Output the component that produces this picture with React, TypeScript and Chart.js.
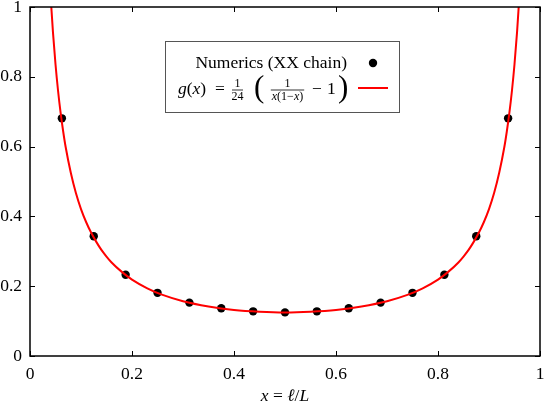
import React, { useEffect, useRef } from "react";
import { Chart, registerables } from "chart.js";

Chart.register(...registerables);

const numX = [0.0625, 0.125, 0.1875, 0.25, 0.3125, 0.375, 0.4375, 0.5, 0.5625, 0.625, 0.6875, 0.75, 0.8125, 0.875, 0.9375];
const numY = [0.681, 0.343, 0.233, 0.181, 0.153, 0.137, 0.128, 0.125, 0.128, 0.137, 0.153, 0.181, 0.233, 0.343, 0.681];

const curveX = [0.041, 0.045, 0.05, 0.055, 0.06, 0.065, 0.07, 0.08, 0.09, 0.10, 0.11, 0.12, 0.13, 0.14, 0.15, 0.16, 0.18, 0.20, 0.23, 0.26, 0.30, 0.35, 0.40, 0.45, 0.50,
  0.55, 0.60, 0.65, 0.70, 0.74, 0.77, 0.80, 0.82, 0.84, 0.85, 0.86, 0.87, 0.88, 0.89, 0.90, 0.91, 0.92, 0.93, 0.935, 0.94, 0.945, 0.95, 0.955, 0.959];
const curveY = [1.018, 0.928, 0.836, 0.760, 0.697, 0.644, 0.598, 0.525, 0.467, 0.421, 0.384, 0.353, 0.327, 0.304, 0.285, 0.268, 0.241, 0.219, 0.194, 0.175, 0.157, 0.142, 0.132, 0.127, 0.125,
  0.127, 0.132, 0.142, 0.157, 0.175, 0.194, 0.219, 0.241, 0.268, 0.285, 0.304, 0.327, 0.353, 0.384, 0.421, 0.467, 0.525, 0.598, 0.644, 0.697, 0.760, 0.836, 0.928, 1.018];

const xTicks = [0, 0.2, 0.4, 0.6, 0.8, 1];
const yTicks = [0, 0.2, 0.4, 0.6, 0.8, 1];

const SERIF = "'Liberation Serif', 'DejaVu Serif', serif";
const FS = 17.5;

const framePlugin = {
  id: "frame",
  afterDraw(chart: any) {
    const { ctx, chartArea: a, scales } = chart;
    ctx.save();
    ctx.strokeStyle = "#000";
    ctx.lineWidth = 1;
    const tl = 5;
    ctx.beginPath();
    for (const t of xTicks) {
      const px = Math.round(scales.x.getPixelForValue(t)) + 0.5;
      ctx.moveTo(px, a.bottom);
      ctx.lineTo(px, a.bottom - tl);
      ctx.moveTo(px, a.top);
      ctx.lineTo(px, a.top + tl);
    }
    for (const t of yTicks) {
      const py = Math.round(scales.y.getPixelForValue(t)) + 0.5;
      ctx.moveTo(a.left, py);
      ctx.lineTo(a.left + tl, py);
      ctx.moveTo(a.right, py);
      ctx.lineTo(a.right - tl, py);
    }
    ctx.stroke();
    ctx.lineWidth = 1.5;
    ctx.strokeRect(a.left, a.top, a.right - a.left, a.bottom - a.top);

    const put = (s: string, px: number, py: number, size: number, it: boolean, align: CanvasTextAlign = "left") => {
      ctx.font = `${it ? "italic " : ""}${size}px ${SERIF}`;
      ctx.textAlign = align;
      ctx.fillText(s, px, py);
      return ctx.measureText(s).width;
    };
    const widthOf = (parts: [string, boolean][], size: number) => {
      let w = 0;
      for (const [s, it] of parts) {
        ctx.font = `${it ? "italic " : ""}${size}px ${SERIF}`;
        w += ctx.measureText(s).width;
      }
      return w;
    };

    // axis title
    ctx.fillStyle = "#000";
    ctx.textBaseline = "middle";
    const tparts: [string, boolean][] = [["x", true], [" = ", false], ["ℓ", true], ["/", false], ["L", true]];
    let x = (a.left + a.right) / 2 - widthOf(tparts, FS) / 2;
    for (const [s, it] of tparts) x += put(s, x, 396, FS, it);

    // legend
    const L = 165, T = 41, R = 399, B = 112;
    ctx.fillStyle = "#fff";
    ctx.fillRect(L, T, R - L, B - T);
    ctx.strokeStyle = "#555";
    ctx.lineWidth = 1;
    ctx.strokeRect(L + 0.5, T + 0.5, R - L, B - T);
    ctx.fillStyle = "#000";
    put("Numerics (XX chain)", 347, 63, FS, false, "right");
    ctx.beginPath();
    ctx.arc(373, 63, 4.2, 0, Math.PI * 2);
    ctx.fill();

    const fy = 89;
    let fx = 178;
    fx += put("g", fx, fy, FS, true);
    fx += put("(", fx, fy, FS, false);
    fx += put("x", fx, fy, FS, true);
    fx += put(")", fx, fy, FS, false);
    put("=", 215, fy, FS, false);
    // 1/24
    put("1", 237.5, 84, 12, false, "center");
    put("24", 237.5, 96.5, 12, false, "center");
    ctx.fillRect(232, 89.6, 11, 0.8);
    // big paren
    put("(", 254, 88.5, 31, false);
    // 1/(x(1-x))
    const f2c = 287.5;
    put("1", f2c, 83.5, 12, false, "center");
    const dparts: [string, boolean][] = [["x", true], ["(1", false], ["−", false], ["x", true], [")", false]];
    const dw = widthOf(dparts, 12);
    let dx = f2c - dw / 2;
    for (const [s, it] of dparts) dx += put(s, dx, 97, 12, it);
    ctx.fillRect(f2c - dw / 2 - 1, 89.6, dw + 2, 0.8);
    put("−", 312, fy, FS, false);
    put("1", 327, fy, FS, false);
    put(")", 338, 88.5, 31, false);
    ctx.strokeStyle = "#ff0000";
    ctx.lineWidth = 2;
    ctx.beginPath();
    ctx.moveTo(358, 88);
    ctx.lineTo(388, 88);
    ctx.stroke();
    ctx.restore();
  },
};

const zeroPad = (s: any) => {
  s.paddingLeft = 0;
  s.paddingRight = 0;
  s.paddingTop = 0;
  s.paddingBottom = 0;
};

export default function App() {
  const ref = useRef<HTMLCanvasElement>(null);
  useEffect(() => {
    const canvas = ref.current!;
    const chart = new Chart(canvas, {
      type: "scatter",
      data: {
        datasets: [
          {
            label: "g",
            type: "line",
            data: curveX.map((x, i) => ({ x, y: curveY[i] })),
            borderColor: "#ff0000",
            borderWidth: 2,
            pointRadius: 0,
            cubicInterpolationMode: "monotone",
            fill: false,
          } as any,
          {
            label: "Numerics (XX chain)",
            data: numX.map((x, i) => ({ x, y: numY[i] })),
            backgroundColor: "#000",
            borderColor: "#000",
            pointRadius: 4.2,
            pointBorderWidth: 0,
          },
        ],
      },
      options: {
        responsive: false,
        animation: false,
        layout: { padding: { top: 7, right: 5, left: 0, bottom: 0 } },
        plugins: { legend: { display: false }, tooltip: { enabled: false } },
        scales: {
          x: {
            type: "linear",
            min: 0,
            max: 1,
            grid: { display: false, drawTicks: false },
            border: { display: false },
            afterFit: (s: any) => { s.height = 51; zeroPad(s); },
            afterBuildTicks: (s: any) => { s.ticks = xTicks.map((v) => ({ value: v })); },
            ticks: {
              padding: 8,
              color: "#000",
              maxRotation: 0,
              font: { family: SERIF, size: FS },
              callback: (v: any) => String(Number(v)),
            },
          },
          y: {
            type: "linear",
            min: 0,
            max: 1,
            grid: { display: false, drawTicks: false },
            border: { display: false },
            afterFit: (s: any) => { s.width = 30; zeroPad(s); },
            afterBuildTicks: (s: any) => { s.ticks = yTicks.map((v) => ({ value: v })); },
            ticks: {
              padding: 8,
              color: "#000",
              font: { family: SERIF, size: FS },
              callback: (v: any) => String(Number(v)),
            },
          },
        },
      },
      plugins: [framePlugin],
    });
    return () => chart.destroy();
  }, []);
  return (
    <div style={{ position: "fixed", left: 0, top: 0, width: 545, height: 407, background: "#fff" }}>
      <canvas ref={ref} width={545} height={407} style={{ display: "block" }} />
    </div>
  );
}
